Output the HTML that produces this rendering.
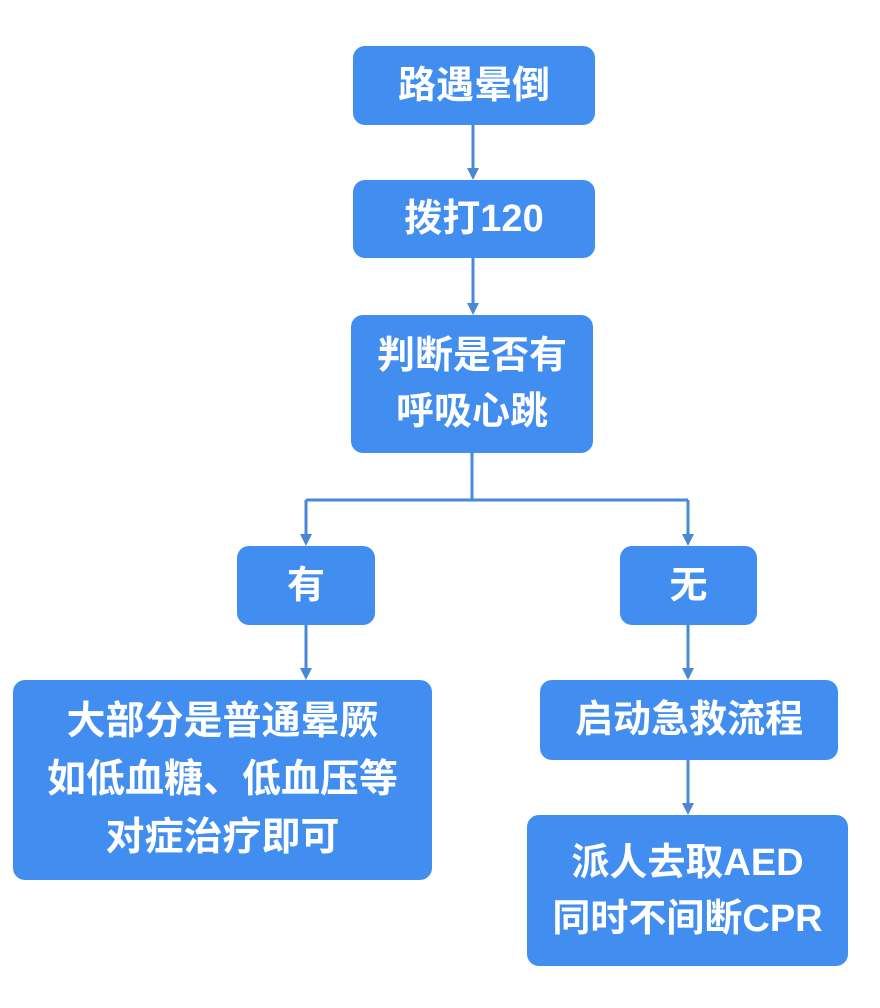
<!DOCTYPE html>
<html><head><meta charset="utf-8"><style>
body{margin:0;width:880px;height:1008px;background:#fff;position:relative;overflow:hidden;font-family:"Liberation Sans","Noto Sans CJK SC",sans-serif}
.b{position:absolute;background:#418ef0;border-radius:12px;color:#fff;font-weight:bold;font-size:38px;display:flex;align-items:center;justify-content:center;text-align:center;line-height:56px;box-sizing:border-box;white-space:nowrap}
svg{position:absolute;left:0;top:0}
</style></head><body>
<svg width="880" height="1008">
<g stroke="#4a88d6" stroke-width="3" fill="none">
<path d="M473 125 V170"/>
<path d="M473 258 V305"/>
<path d="M472 452 V500"/>
<path d="M306 500 H688"/>
<path d="M306 500 V536"/>
<path d="M688 500 V536"/>
<path d="M306 625 V670"/>
<path d="M688 625 V670"/>
<path d="M688 760 V805"/>
</g>
<g fill="#4a88d6">
<path d="M467 168 L479 168 L473 180z"/>
<path d="M467 303 L479 303 L473 315z"/>
<path d="M300 534 L312 534 L306 546z"/>
<path d="M682 534 L694 534 L688 546z"/>
<path d="M300 668 L312 668 L306 680z"/>
<path d="M682 668 L694 668 L688 680z"/>
<path d="M682 803 L694 803 L688 815z"/>
</g></svg>
<div class="b" style="left:353px;top:46px;width:242px;height:79px">路遇晕倒</div>
<div class="b" style="left:353px;top:180px;width:242px;height:78px">拨打120</div>
<div class="b" style="left:351px;top:315px;width:242px;height:138px">判断是否有<br>呼吸心跳</div>
<div class="b" style="left:237px;top:546px;width:138px;height:79px">有</div>
<div class="b" style="left:620px;top:546px;width:137px;height:79px">无</div>
<div class="b" style="left:13px;top:680px;width:419px;height:200px;line-height:58px;font-size:39px">大部分是普通晕厥<br>如低血糖、低血压等<br>对症治疗即可</div>
<div class="b" style="left:540px;top:680px;width:298px;height:80px">启动急救流程</div>
<div class="b" style="left:527px;top:815px;width:321px;height:151px">派人去取AED<br>同时不间断CPR</div>
</body></html>
